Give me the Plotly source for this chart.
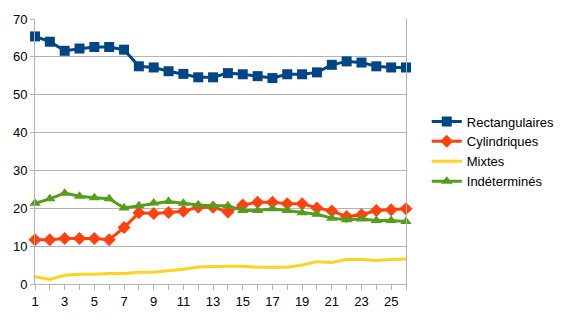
import plotly.graph_objects as go

categories = list(range(1, 27))
tick_labels = [str(c) if c % 2 == 1 else "" for c in categories]

rectangulaires = [65.4, 64.0, 61.6, 62.2, 62.6, 62.6, 61.9, 57.5, 57.2, 56.2, 55.5, 54.6, 54.6,
                  55.7, 55.4, 54.9, 54.4, 55.4, 55.4, 55.9, 57.9, 58.8, 58.5, 57.5, 57.2, 57.2]
cylindriques = [11.7, 11.7, 12.0, 12.0, 12.0, 11.7, 14.9, 18.8, 18.6, 18.9, 19.2, 20.3, 20.3,
                19.0, 20.9, 21.6, 21.6, 21.2, 21.2, 20.1, 19.3, 17.8, 18.3, 19.4, 19.6, 19.9]
mixtes = [1.9, 1.2, 2.3, 2.6, 2.6, 2.8, 2.8, 3.1, 3.1, 3.5, 3.9, 4.5, 4.7,
          4.7, 4.7, 4.4, 4.4, 4.4, 5.0, 5.9, 5.7, 6.5, 6.5, 6.2, 6.5, 6.6]
indetermines = [21.3, 22.5, 24.0, 23.2, 22.8, 22.5, 20.1, 20.7, 21.4, 21.8, 21.3, 20.9, 20.7,
                20.7, 19.4, 19.4, 19.9, 19.4, 18.8, 18.4, 17.4, 17.0, 17.2, 16.8, 16.8, 16.5]

series = [
    ("Rectangulaires", rectangulaires, "#004586", "square", 10),
    ("Cylindriques", cylindriques, "#ff420e", "diamond", 10),
    ("Mixtes", mixtes, "#ffd320", None, 0),
    ("Indéterminés", indetermines, "#579d1c", "triangle-up", 10),
]

fig = go.Figure()
for name, vals, color, sym, size in series:
    if sym:
        fig.add_trace(go.Scatter(x=categories, y=vals, name=name, mode="lines+markers",
                                 line=dict(color=color, width=3),
                                 marker=dict(symbol=sym, size=size, color=color),
                                 cliponaxis=False))
    else:
        fig.add_trace(go.Scatter(x=categories, y=vals, name=name, mode="lines",
                                 line=dict(color=color, width=3), cliponaxis=False))

fig.update_layout(
    width=572, height=332,
    margin=dict(l=35, r=152, t=17, b=48),
    plot_bgcolor="white", paper_bgcolor="white",
    font=dict(family="Liberation Sans, Arial, sans-serif", size=13, color="#000000"),
    showlegend=True,
    legend=dict(x=1.056, xanchor="left", y=0.5, yanchor="middle",
                font=dict(size=13), tracegroupgap=1, itemwidth=30,
                bgcolor="rgba(0,0,0,0)"),
    xaxis=dict(range=[1, 26], tickmode="array", tickvals=categories, ticktext=tick_labels,
               showgrid=False, zeroline=False, showline=True, linecolor="#b3b3b3",
               ticks="outside", ticklen=5, tickcolor="#b3b3b3", tickangle=0),
    yaxis=dict(range=[0, 70], dtick=10, showgrid=True, gridcolor="#b3b3b3", gridwidth=1,
               zeroline=False, showline=True, linecolor="#b3b3b3", mirror=True,
               ticks="outside", ticklen=4, tickcolor="#b3b3b3"),
)

fig.write_html("out.html")
